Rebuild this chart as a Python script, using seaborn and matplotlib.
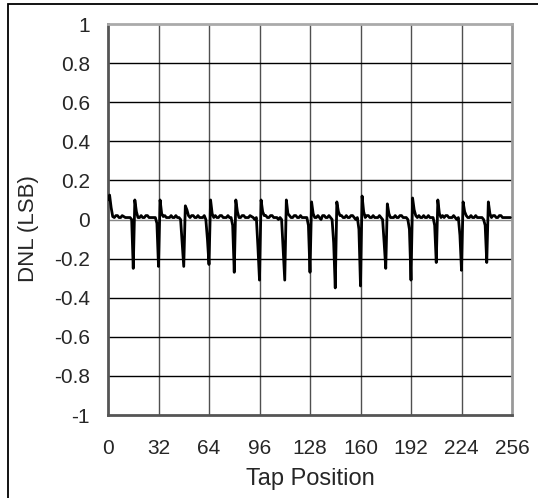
import seaborn as sns
import matplotlib
import matplotlib.pyplot as plt
from matplotlib.patches import Rectangle
import numpy as np
import pandas as pd

matplotlib.use('Agg')

# DNL per tap, one row per 16-tap segment (taps 16j .. 16j+15)
dnl_rows = [
    [0.10, 0.125, 0.06, 0.015, 0.01, 0.02, 0.02, 0.01, 0.01, 0.02, 0.015, 0.01, 0.01, 0.01, 0.01, 0.0],
    [-0.25, 0.10, 0.04, 0.01, 0.01, 0.02, 0.01, 0.01, 0.02, 0.02, 0.01, 0.01, 0.01, 0.01, 0.01, -0.02],
    [-0.24, 0.10, 0.03, 0.015, 0.02, 0.01, 0.01, 0.01, 0.02, 0.01, 0.01, 0.02, 0.01, 0.01, 0.0, -0.12],
    [-0.24, 0.07, 0.05, 0.02, 0.01, 0.02, 0.02, 0.01, 0.01, 0.02, 0.01, 0.01, 0.01, 0.02, 0.0, -0.10],
    [-0.23, 0.10, 0.03, 0.01, 0.02, 0.01, 0.01, 0.02, 0.02, 0.01, 0.01, 0.01, 0.02, 0.01, 0.01, -0.03],
    [-0.27, 0.10, 0.04, 0.01, 0.01, 0.02, 0.02, 0.01, 0.01, 0.01, 0.02, 0.015, 0.01, 0.0, 0.01, -0.14],
    [-0.31, 0.10, 0.04, 0.02, 0.02, 0.01, 0.01, 0.02, 0.02, 0.01, 0.01, 0.01, 0.0, 0.01, 0.0, -0.16],
    [-0.31, 0.10, 0.03, 0.02, 0.01, 0.01, 0.02, 0.02, 0.01, 0.01, 0.02, 0.01, 0.01, 0.01, 0.01, -0.03],
    [-0.27, 0.09, 0.03, 0.01, 0.01, 0.02, 0.01, 0.0, 0.02, 0.02, 0.01, 0.01, 0.02, 0.01, 0.0, -0.12],
    [-0.35, 0.09, 0.04, 0.02, 0.02, 0.01, 0.01, 0.02, 0.01, 0.01, 0.02, 0.02, 0.01, 0.0, 0.01, -0.05],
    [-0.34, 0.12, 0.04, 0.01, 0.02, 0.02, 0.01, 0.01, 0.02, 0.01, 0.01, 0.01, 0.02, 0.01, 0.0, -0.12],
    [-0.25, 0.08, 0.03, 0.01, 0.01, 0.01, 0.02, 0.01, 0.01, 0.02, 0.02, 0.01, 0.01, 0.01, 0.0, -0.05],
    [-0.31, 0.11, 0.05, 0.02, 0.01, 0.02, 0.01, 0.01, 0.02, 0.01, 0.01, 0.02, 0.01, 0.01, 0.01, -0.03],
    [-0.22, 0.10, 0.03, 0.01, 0.02, 0.01, 0.02, 0.02, 0.01, 0.01, 0.01, 0.02, 0.01, 0.0, 0.01, -0.08],
    [-0.26, 0.09, 0.04, 0.02, 0.01, 0.01, 0.02, 0.01, 0.01, 0.02, 0.01, 0.01, 0.01, 0.01, 0.0, -0.03],
    [-0.22, 0.09, 0.03, 0.01, 0.02, 0.02, 0.01, 0.01, 0.02, 0.02, 0.01, 0.01, 0.01, 0.01, 0.01, 0.01],
]

x_ticks = [0, 32, 64, 96, 128, 160, 192, 224, 256]
y_ticks = [-1, -0.8, -0.6, -0.4, -0.2, 0, 0.2, 0.4, 0.6, 0.8, 1]
y_tick_labels = ["-1", "-0.8", "-0.6", "-0.4", "-0.2", "0", "0.2", "0.4", "0.6", "0.8", "1"]


def plot_dnl(plot_file_path: str) -> None:
    dnl = [v for row in dnl_rows for v in row]
    df = pd.DataFrame({"tap": np.arange(len(dnl)), "dnl": dnl})

    sns.set_style("white")
    plt.rcParams['font.family'] = ['Liberation Sans', 'DejaVu Sans']

    fig = plt.figure(figsize=(5.38, 4.98), dpi=100)
    ax = fig.add_axes([108 / 538, 83 / 498, 404 / 538, 391 / 498])

    # Grid first, data on top
    for x in x_ticks[1:-1]:
        ax.axvline(x, color="#505050", lw=1.0, zorder=1)
    for y in y_ticks[1:-1]:
        ax.axhline(y, color="#888888" if y == 0 else "black", lw=1.0, zorder=1)

    sns.lineplot(data=df, x="tap", y="dnl", color="black", lw=2.0, ax=ax, zorder=3)

    ax.set_xlim(0, 256)
    ax.set_ylim(-1, 1)
    ax.set_xticks(x_ticks)
    ax.set_xticklabels([str(t) for t in x_ticks])
    ax.set_yticks(y_ticks)
    ax.set_yticklabels(y_tick_labels)
    ax.tick_params(axis="both", length=0, labelsize=15)
    ax.tick_params(axis="y", pad=13)
    ax.tick_params(axis="x", pad=17)

    ax.set_xlabel("Tap Position", fontsize=17)
    ax.set_ylabel("DNL (LSB)", fontsize=16, va="center")
    ax.xaxis.set_label_coords(0.5, -0.135)
    ax.yaxis.set_label_coords(-0.198, 0.477)

    ax.spines["left"].set_color("#555555")
    ax.spines["bottom"].set_color("#555555")
    ax.spines["top"].set_color("#aaaaaa")
    ax.spines["right"].set_color("#999999")
    for s in ax.spines.values():
        s.set_linewidth(2)

    # Frame around the whole picture (right and bottom edges cut off)
    fig.patches.append(Rectangle((8 / 538, -0.05), 1.1, 1.05 - 4.5 / 498, transform=fig.transFigure,
                                 fill=False, edgecolor="black", lw=1.3, clip_on=False))

    if plot_file_path:
        plt.savefig(plot_file_path, dpi=100)


plot_dnl("out.png")
